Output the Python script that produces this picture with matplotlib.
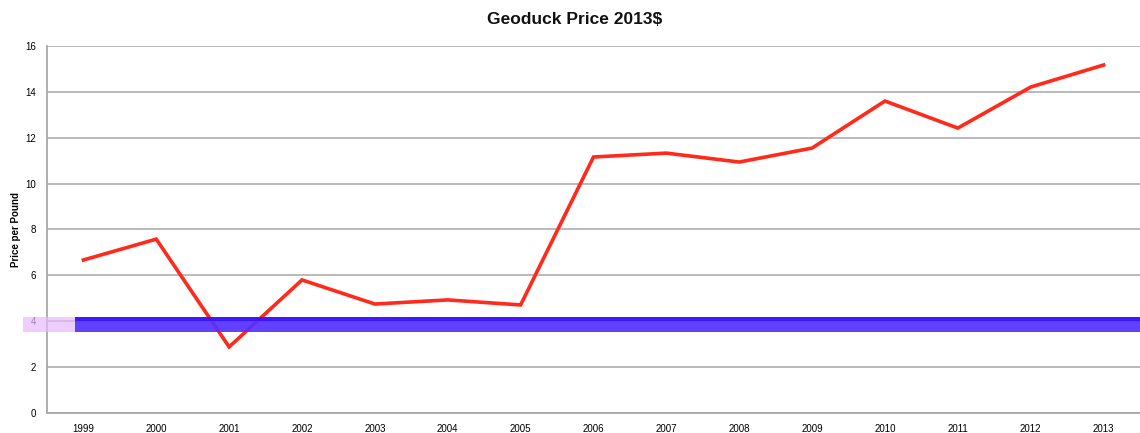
import matplotlib.pyplot as plt
from matplotlib.patches import Rectangle

# data
years = ['1999', '2000', '2001', '2002', '2003', '2004', '2005', '2006',
         '2007', '2008', '2009', '2010', '2011', '2012', '2013']
price = [6.67, 7.58, 2.88, 5.80, 4.75, 4.93, 4.71, 11.16,
         11.33, 10.94, 11.55, 13.60, 12.42, 14.21, 15.17]
yticks = [0, 2, 4, 6, 8, 10, 12, 14, 16]

plt.rcParams['font.family'] = ['Liberation Sans', 'DejaVu Sans']

fig = plt.figure(figsize=(11.4, 4.33), dpi=100)
ax = fig.add_axes([0.0412, 0.0462, 0.9588, 0.8476])

x = list(range(len(years)))
ax.plot(x, price, color='#ff2a1a', linewidth=2.6, solid_joinstyle='miter')

ax.set_xlim(-0.5, len(years) - 0.5)
ax.set_ylim(0, 16)
ax.set_xticks(x)
ax.set_xticklabels(years, fontsize=7)
ax.set_yticks(yticks)
ax.set_yticklabels([str(v) for v in yticks], fontsize=7)
ax.tick_params(length=0, pad=8)
ax.yaxis.grid(True, color='#b4b4b4', linewidth=1.3)
ax.set_axisbelow(True)
for side in ['top', 'right']:
    ax.spines[side].set_visible(False)
for side in ['left', 'bottom']:
    ax.spines[side].set_color('#a8a8a8')
    ax.spines[side].set_linewidth(1.3)

ax.set_ylabel('Price per Pound', fontsize=7, fontweight='bold', labelpad=3)
fig.text(0.504, 0.955, 'Geoduck Price 2013$', ha='center', va='center',
         fontsize=12.5, fontweight='bold', color='#111111')

# blue overlay band seen across the picture
fig.patches.append(Rectangle((0.066, 0.233), 0.934, 0.035, transform=fig.transFigure,
                             facecolor='#5530ff', alpha=0.92, edgecolor='none', zorder=5))
fig.patches.append(Rectangle((0.066, 0.258), 0.934, 0.010, transform=fig.transFigure,
                             facecolor='#2a00ff', alpha=0.6, edgecolor='none', zorder=6))
fig.patches.append(Rectangle((0.020, 0.233), 0.046, 0.035, transform=fig.transFigure,
                             facecolor='#e8b8ff', alpha=0.7, edgecolor='none', zorder=5))

fig.savefig('out.png', dpi=100)
